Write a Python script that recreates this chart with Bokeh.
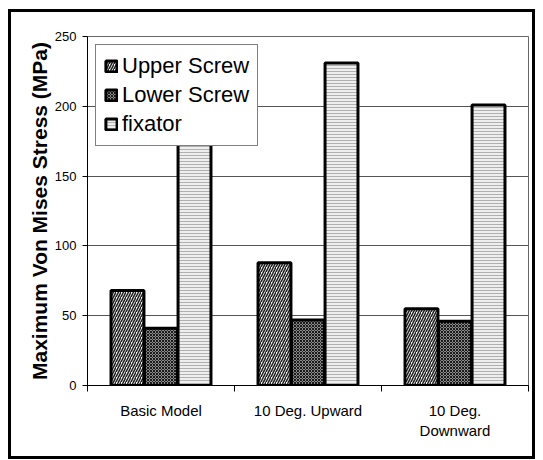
from bokeh.plotting import figure
from bokeh.models import Range1d, FixedTicker, ColumnDataSource, Legend, LegendItem
from bokeh.transform import dodge
from bokeh.embed import file_html
from bokeh.resources import INLINE

categories = ["Basic Model", "10 Deg. Upward", "10 Deg.\nDownward"]
upper_screw = [68, 88, 55]
lower_screw = [41, 47, 46]
fixator = [178, 231, 201]
y_ticks = [0, 50, 100, 150, 200, 250]

xs = [i + 0.5 for i in range(len(categories))]
src = ColumnDataSource(dict(x=xs, upper=upper_screw, lower=lower_screw, fix=fixator))

p = figure(width=527, height=450, output_backend="svg", toolbar_location=None,
           x_range=Range1d(0, len(categories)), y_range=Range1d(0, 250),
           min_border_left=76, min_border_right=10, min_border_top=24, min_border_bottom=77)
p.styles = {"border": "3px solid black", "margin-left": "8px", "margin-top": "9px"}
p.background_fill_color = "white"
p.border_fill_color = "white"
p.outline_line_color = "#666666"
p.outline_line_width = 1

font = "Liberation Sans"
bw = 0.224
r1 = p.vbar(x=dodge("x", -0.228, range=p.x_range), top="upper", width=bw, source=src,
            fill_color="white", hatch_pattern="right_diagonal_line", hatch_color="#222222",
            hatch_scale=5, hatch_weight=1.6, line_color="black", line_width=3)
r2 = p.vbar(x=dodge("x", 0.0, range=p.x_range), top="lower", width=bw, source=src,
            fill_color="#8a8a8a", hatch_pattern="diagonal_cross", hatch_color="#1a1a1a",
            hatch_scale=3, hatch_weight=1, line_color="black", line_width=3)
r3 = p.vbar(x=dodge("x", 0.228, range=p.x_range), top="fix", width=bw, source=src,
            fill_color="#eeeeee", hatch_pattern="horizontal_line", hatch_color="#b0b0b0",
            hatch_scale=3, hatch_weight=1, line_color="black", line_width=3)

p.xgrid.visible = False
p.ygrid.grid_line_color = "#555555"
p.ygrid.grid_line_width = 1
p.ygrid.ticker = FixedTicker(ticks=y_ticks)

p.yaxis.ticker = FixedTicker(ticks=y_ticks)
p.yaxis.axis_label = "Maximum Von Mises Stress (MPa)"
p.yaxis.axis_label_text_font = font
p.yaxis.axis_label_text_font_style = "bold"
p.yaxis.axis_label_text_font_size = "21px"
p.yaxis.axis_label_text_color = "black"
p.yaxis.axis_label_standoff = 1
p.yaxis.major_label_text_font = font
p.yaxis.major_label_text_font_size = "13px"
p.yaxis.major_label_text_color = "black"
p.yaxis.axis_line_color = "black"
p.yaxis.major_tick_line_color = "black"
p.yaxis.major_tick_out = 5
p.yaxis.major_tick_in = 0
p.yaxis.minor_tick_line_color = None
p.yaxis.major_label_standoff = 6

p.xaxis.ticker = FixedTicker(ticks=xs, minor_ticks=list(range(len(categories) + 1)))
p.xaxis.major_label_overrides = {x: c for x, c in zip(xs, categories)}
p.xaxis.major_label_text_font = font
p.xaxis.major_label_text_font_size = "15px"
p.xaxis.major_label_text_color = "black"
p.xaxis.major_tick_line_color = None
p.xaxis.minor_tick_line_color = "black"
p.xaxis.minor_tick_out = 6
p.xaxis.minor_tick_in = 0
p.xaxis.axis_line_color = "black"
p.xaxis.major_label_standoff = 10

legend = Legend(items=[LegendItem(label="Upper Screw", renderers=[r1]),
                       LegendItem(label="Lower Screw", renderers=[r2]),
                       LegendItem(label="fixator", renderers=[r3])],
                location="top_left", margin=8)
legend.label_text_font = font
legend.label_text_font_size = "22px"
legend.label_text_color = "black"
legend.glyph_width = 14
legend.glyph_height = 14
legend.label_height = 21
legend.spacing = 3
legend.padding = 8
legend.label_standoff = 4
legend.border_line_color = "black"
legend.border_line_width = 1
legend.background_fill_alpha = 1
p.add_layout(legend)

open("out.html", "w").write(file_html(p, INLINE))
